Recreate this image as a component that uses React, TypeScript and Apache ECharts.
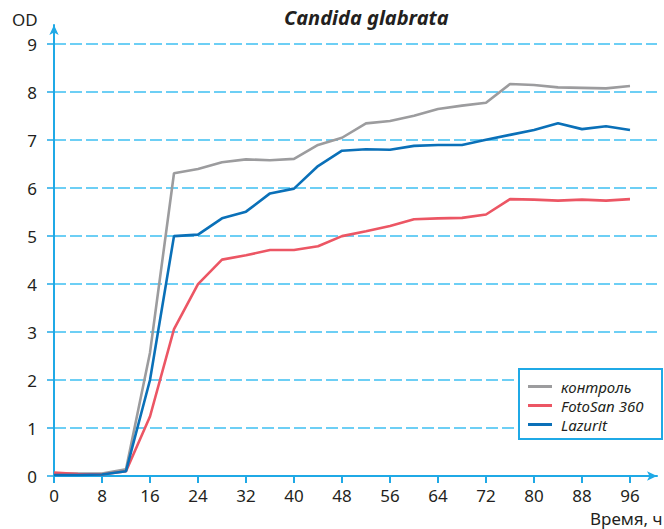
import React, { useEffect, useRef } from "react";
import * as echarts from "echarts";

const hours = [0, 4, 8, 12, 16, 20, 24, 28, 32, 36, 40, 44, 48, 52, 56, 60, 64, 68, 72, 76, 80, 84, 88, 92, 96];
const control = [0.05, 0.05, 0.05, 0.14, 2.57, 6.31, 6.4, 6.54, 6.6, 6.58, 6.61, 6.9, 7.05, 7.35, 7.4, 7.51, 7.65, 7.72, 7.78, 8.17, 8.15, 8.1, 8.09, 8.08, 8.13];
const fotosan = [0.07, 0.04, 0.03, 0.1, 1.24, 3.06, 4.0, 4.51, 4.6, 4.71, 4.71, 4.79, 5.0, 5.1, 5.21, 5.35, 5.37, 5.38, 5.45, 5.77, 5.76, 5.74, 5.76, 5.74, 5.77];
const lazurit = [0.02, 0.02, 0.03, 0.1, 2.0, 5.0, 5.03, 5.37, 5.51, 5.89, 5.99, 6.46, 6.78, 6.81, 6.8, 6.88, 6.9, 6.9, 7.01, 7.11, 7.21, 7.35, 7.23, 7.29, 7.21];
const xTicks = [0, 8, 16, 24, 32, 40, 48, 56, 64, 72, 80, 88, 96];
const yTicks = [0, 1, 2, 3, 4, 5, 6, 7, 8, 9];
const seriesNames = ["контроль", "FotoSan 360", "Lazurit"];
const seriesColors = ["#9c9c9e", "#ec5664", "#0a70b8"];

const AXIS = "#1fa9e6";
const GRID = "#3ec0f2";
const FONT = "'Noto Sans', 'Open Sans', sans-serif";

export default function App() {
  const ref = useRef<HTMLDivElement>(null);
  useEffect(() => {
    if (!ref.current) return;
    const chart = echarts.init(ref.current, undefined, { renderer: "svg" });
    const all = [control, fotosan, lazurit];
    chart.setOption({
      animation: false,
      backgroundColor: "#ffffff",
      textStyle: { fontFamily: FONT },
      title: {
        text: "Candida glabrata",
        left: 284,
        top: 7,
        padding: 0,
        textStyle: { fontSize: 20, fontWeight: "bold", fontStyle: "italic", color: "#231f20", fontFamily: FONT },
      },
      grid: { left: 54, right: 7, top: 25, bottom: 53 },
      xAxis: {
        type: "value",
        min: 0,
        max: 100.5,
        axisLine: { show: true, lineStyle: { color: AXIS, width: 2 }, symbol: ["none", "arrow"], symbolSize: [7, 10] },
        axisTick: { show: true, length: 7, lineStyle: { color: AXIS, width: 2 }, customValues: xTicks },
        axisLabel: { customValues: xTicks, margin: 11, fontSize: 17, color: "#231f20", fontFamily: FONT },
        splitLine: { show: false },
      },
      yAxis: {
        type: "value",
        min: 0,
        max: 9.4,
        axisLine: { show: true, lineStyle: { color: AXIS, width: 2 }, symbol: ["none", "arrow"], symbolSize: [7, 10] },
        axisTick: { show: true, length: 7, lineStyle: { color: AXIS, width: 1.5 }, customValues: yTicks },
        axisLabel: { customValues: yTicks, margin: 17, fontSize: 17, color: "#231f20", fontFamily: FONT },
        splitLine: { show: true, lineStyle: { color: GRID, width: 1.5, type: [12, 4] } },
      },
      legend: {
        orient: "vertical",
        left: 528,
        top: 379,
        padding: 0,
        icon: "rect",
        itemWidth: 24,
        itemHeight: 3,
        itemGap: 4,
        z: 10,
        textStyle: { fontSize: 15, fontStyle: "italic", color: "#231f20", fontFamily: FONT, padding: [0, 0, 0, 4] },
        data: seriesNames,
      },
      graphic: [
        {
          type: "rect",
          z: 5,
          shape: { x: 519, y: 369, width: 143, height: 70 },
          style: { fill: "#ffffff", stroke: AXIS, lineWidth: 2 },
        },
        {
          type: "text",
          left: 12,
          top: 11,
          style: { text: "OD", fontSize: 17, fill: "#231f20", fontFamily: FONT },
        },
        {
          type: "text",
          left: 590,
          top: 510,
          style: { text: "Время, ч", fontSize: 17, fill: "#231f20", fontFamily: FONT },
        },
      ],
      series: seriesNames.map((name, i) => ({
        name,
        type: "line",
        symbol: "none",
        color: seriesColors[i],
        lineStyle: { width: 2.6, color: seriesColors[i] },
        data: hours.map((h, j) => [h, all[i][j]]),
      })),
    });
    return () => chart.dispose();
  }, []);
  return <div ref={ref} style={{ position: "absolute", left: 0, top: 0, width: 664, height: 529 }} />;
}
